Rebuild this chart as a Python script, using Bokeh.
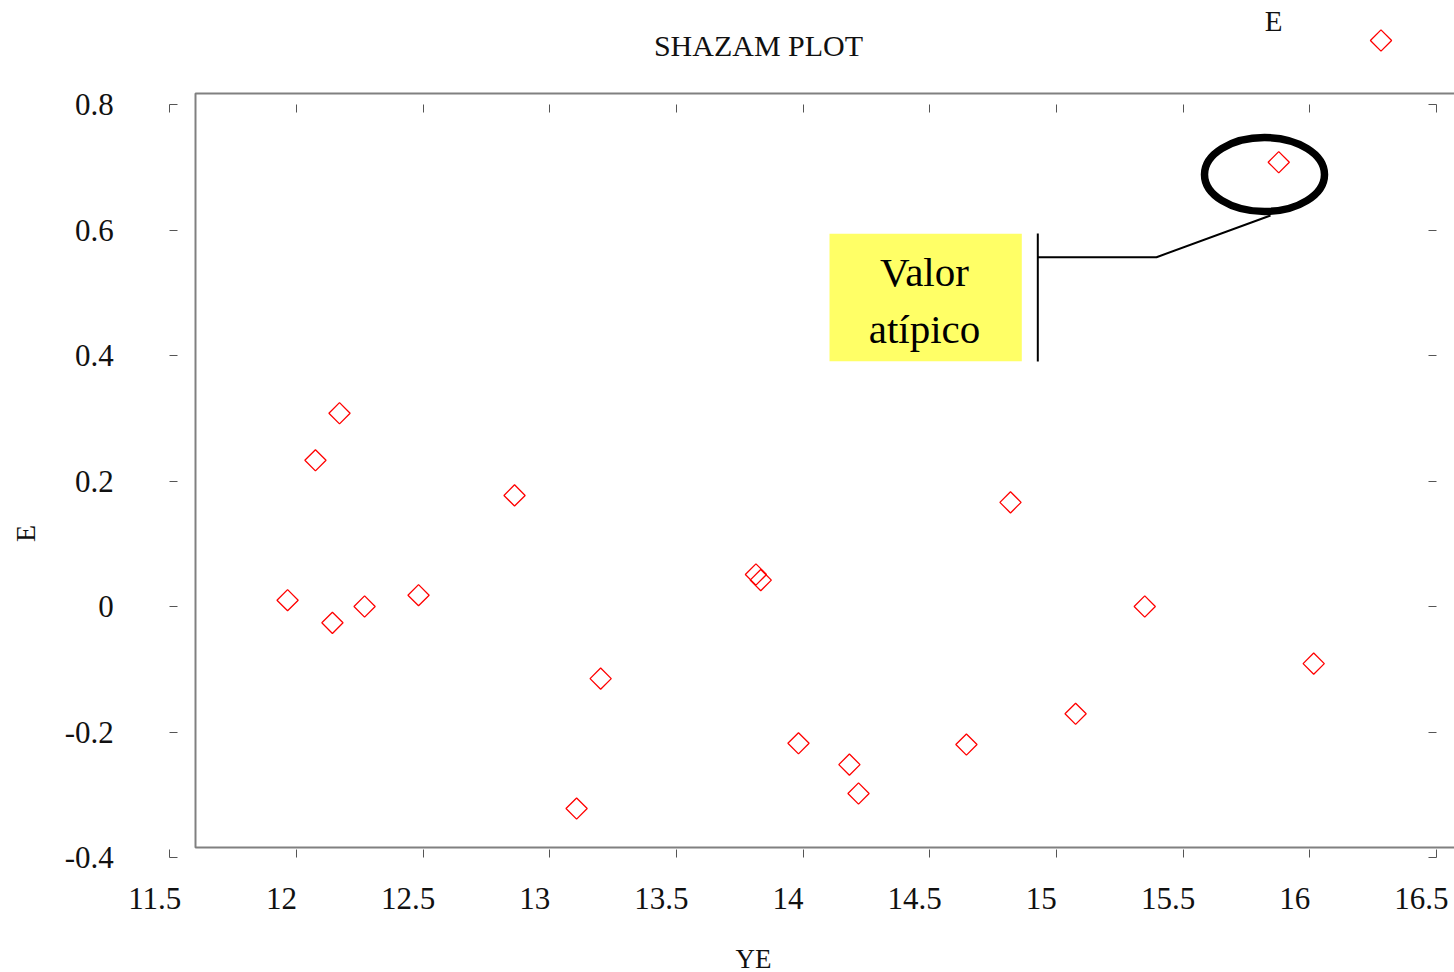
import math
from bokeh.plotting import figure
from bokeh.models import Label, BoxAnnotation, FixedTicker, LinearAxis, Range1d
from bokeh.embed import file_html
from bokeh.resources import INLINE

# ---- data ----
ye = [11.965, 12.075, 12.142, 12.170, 12.269, 12.482, 12.861, 13.106, 13.201, 13.814,
      13.833, 13.982, 14.183, 14.219, 14.645, 14.819, 15.076, 15.349, 15.878, 16.016]
e = [0.010, 0.233, -0.026, 0.308, 0.000, 0.018, 0.177, -0.322, -0.115, 0.051,
     0.042, -0.218, -0.252, -0.298, -0.220, 0.166, -0.171, 0.000, 0.708, -0.091]

x_ticks = [11.5, 12.0, 12.5, 13.0, 13.5, 14.0, 14.5, 15.0, 15.5, 16.0, 16.5]
x_tick_labels = ["11.5", "12", "12.5", "13", "13.5", "14", "14.5", "15", "15.5", "16", "16.5"]
y_ticks = [-0.4, -0.2, 0.0, 0.2, 0.4, 0.6, 0.8]
y_tick_labels = ["-0.4", "-0.2", "0", "0.2", "0.4", "0.6", "0.8"]

title_text = "SHAZAM PLOT"
x_label = "YE"
y_label = "E"
series_name = "E"
note_lines = ["Valor", "atípico"]

SERIF = "Liberation Serif"
GRAY = "#808080"
W, H = 1454, 972

# pixel geometry of the axis box: x 11.5 -> 169.3 px, 253.3 px per unit; y 0.8 -> 104 px, 627.5 px per unit
XPX, YPX = 253.3, 627.5
x0 = 11.5 - 169.3 / XPX
x1 = x0 + W / XPX
y1 = 0.8 + 104 / YPX
y0 = y1 - H / YPX


def sx(px):
    return 11.5 + (px - 169.3) / XPX


def sy(py):
    return 0.8 - (py - 104) / YPX


p = figure(width=W, height=H, output_backend="svg", toolbar_location=None,
           x_range=Range1d(x0, x1), y_range=Range1d(y0, y1),
           x_axis_location=None, y_axis_location=None, title=None,
           min_border_left=0, min_border_right=0, min_border_top=0, min_border_bottom=0)
p.outline_line_color = None
p.background_fill_color = "white"
p.border_fill_color = "white"
p.xgrid.visible = False
p.ygrid.visible = False

LAB_SHIFT = 15 / XPX
p.extra_x_ranges = {"lab": Range1d(x0 + LAB_SHIFT, x1 + LAB_SHIFT)}


def make_axis(ticks, labels, loc, show_labels, tick_len=8, **kw):
    ax = LinearAxis(ticker=FixedTicker(ticks=ticks, minor_ticks=[]), fixed_location=loc, **kw)
    ax.major_label_overrides = {t: l for t, l in zip(ticks, labels)}
    ax.axis_line_color = None
    ax.major_tick_in = tick_len
    ax.major_tick_out = 0
    ax.major_tick_line_color = "#555555" if tick_len else None
    ax.major_tick_line_width = 1
    ax.minor_tick_line_color = None
    ax.major_label_text_font = SERIF
    ax.major_label_text_font_size = "31px"
    ax.major_label_text_color = "#111111" if show_labels else None
    return ax


# tick marks on all four sides of the axis box
p.add_layout(make_axis(x_ticks, x_tick_labels, -0.4, False), "below")
p.add_layout(make_axis(x_ticks, x_tick_labels, 0.8, False), "above")
left = make_axis(y_ticks, y_tick_labels, 11.5, True)
left.major_label_standoff = 56
p.add_layout(left, "left")
p.add_layout(make_axis(y_ticks, y_tick_labels, 16.5, False), "right")
# x tick labels (drawn slightly left of their ticks, as in the reference)
xlab = make_axis(x_ticks, x_tick_labels, -0.4, True, tick_len=0, x_range_name="lab")
xlab.major_label_standoff = 30
p.add_layout(xlab, "below")

# misaligned gray frame
p.add_layout(BoxAnnotation(left=sx(195), right=x1 + 1, top=sy(93), bottom=sy(847),
                           fill_alpha=0, line_color=GRAY, line_alpha=1, line_width=2,
                           level="underlay"))

# callout
p.quad(left=[sx(829)], right=[sx(1021.3)], top=[sy(233.3)], bottom=[sy(360.7)],
       fill_color="#FFFF66", line_color=None)
p.segment(x0=[sx(1037.3)], y0=[sy(361)], x1=[sx(1037.3)], y1=[sy(233)],
          line_color="black", line_width=2)
p.line(x=[sx(1037.3), sx(1156), sx(1270)], y=[sy(256.7), sy(256.7), sy(215)],
       line_color="black", line_width=2)
p.ellipse(x=[sx(1264)], y=[sy(174)], width=[120 / XPX], height=[74 / YPX],
          fill_color=None, line_color="black", line_width=7.5)

MARK = dict(marker="square", angle=math.pi / 4, size=15, fill_color=None,
            line_color="red", line_width=1.3)
p.scatter(ye, e, **MARK)

for txt, py in zip(note_lines, [271, 328]):
    p.add_layout(Label(x=sx(924), y=sy(py), text=txt, text_align="center",
                       text_baseline="middle", text_font=SERIF,
                       text_font_size="41px", text_color="black"))

# titles
p.add_layout(Label(x=sx(758), y=sy(45), text=title_text, text_align="center",
                   text_baseline="middle", text_font=SERIF, text_font_size="30px",
                   text_color="#111111"))
p.add_layout(Label(x=sx(753), y=sy(958), text=x_label, text_align="center",
                   text_baseline="middle", text_font=SERIF, text_font_size="27px",
                   text_color="#111111"))
p.add_layout(Label(x=sx(25), y=sy(533), text=y_label, text_align="center",
                   text_baseline="middle", angle=math.pi / 2, text_font=SERIF,
                   text_font_size="28px", text_color="#111111"))

# key: series name, with its marker to the right
p.add_layout(Label(x=sx(1273), y=sy(20), text=series_name,
                   text_align="center", text_baseline="middle", text_font=SERIF,
                   text_font_size="29px", text_color="#111111"))
p.scatter([sx(1380.5)], [sy(40)], **MARK)

# partially visible orange text at the very bottom edge
p.add_layout(Label(x=sx(1373), y=sy(966), text="El",
                   text_align="left", text_baseline="top",
                   text_font="Liberation Sans", text_font_style="bold",
                   text_font_size="32px", text_color="#F47A20"))

open("out.html", "w").write(file_html(p, INLINE))
